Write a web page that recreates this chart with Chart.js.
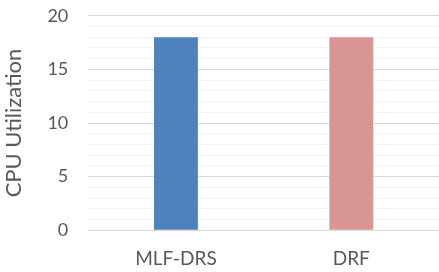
<!DOCTYPE html>
<html>
<head>
<meta charset="utf-8">
<script src="https://cdn.jsdelivr.net/npm/chart.js@4/dist/chart.umd.min.js"></script>
<style>
  html, body { margin: 0; padding: 0; background: #fff; overflow: hidden; }
  #wrap { width: 439px; height: 287px; margin-top: -15px; }
</style>
</head>
<body>
<div id="wrap"><canvas id="cpu_chart"></canvas></div>
<script>
const categories = ['MLF-DRS', 'DRF']
const cpuValues = [18, 18]
const barColors = ['#4f81bd', '#d99594']

const ctx = document.getElementById('cpu_chart')

new Chart(ctx, {
  type: 'bar',
  data: {
    labels: categories,
    datasets: [
      {
        label: 'CPU Utilization',
        data: cpuValues,
        backgroundColor: barColors,
        categoryPercentage: 1,
        barPercentage: 0.25
      }
    ]
  },
  options: {
    responsive: true,
    maintainAspectRatio: false,
    animation: false,
    layout: {
      padding: { left: 1, right: 0, top: -12, bottom: -7 }
    },
    plugins: {
      legend: { display: false },
      tooltip: { enabled: false }
    },
    scales: {
      x: {
        grid: { display: false },
        border: { display: false },
        ticks: {
          color: '#595959',
          font: { family: 'Lato', size: 19 },
          padding: 9
        }
      },
      y: {
        min: 0,
        max: 20,
        border: { display: false },
        grid: {
          drawTicks: false,
          color: (c) => (c.tick && c.tick.value % 5 === 0 ? '#d9d9d9' : '#f2f2f2'),
          lineWidth: 1
        },
        ticks: {
          stepSize: 1,
          autoSkip: false,
          padding: 20,
          color: '#595959',
          font: { family: 'Lato', size: 18 },
          callback: (v) => (v % 5 === 0 ? v : '')
        },
        title: {
          display: true,
          text: 'CPU Utilization',
          color: '#595959',
          font: { family: 'Lato', size: 22 },
          padding: 0
        }
      }
    }
  }
})
</script>
</body>
</html>
